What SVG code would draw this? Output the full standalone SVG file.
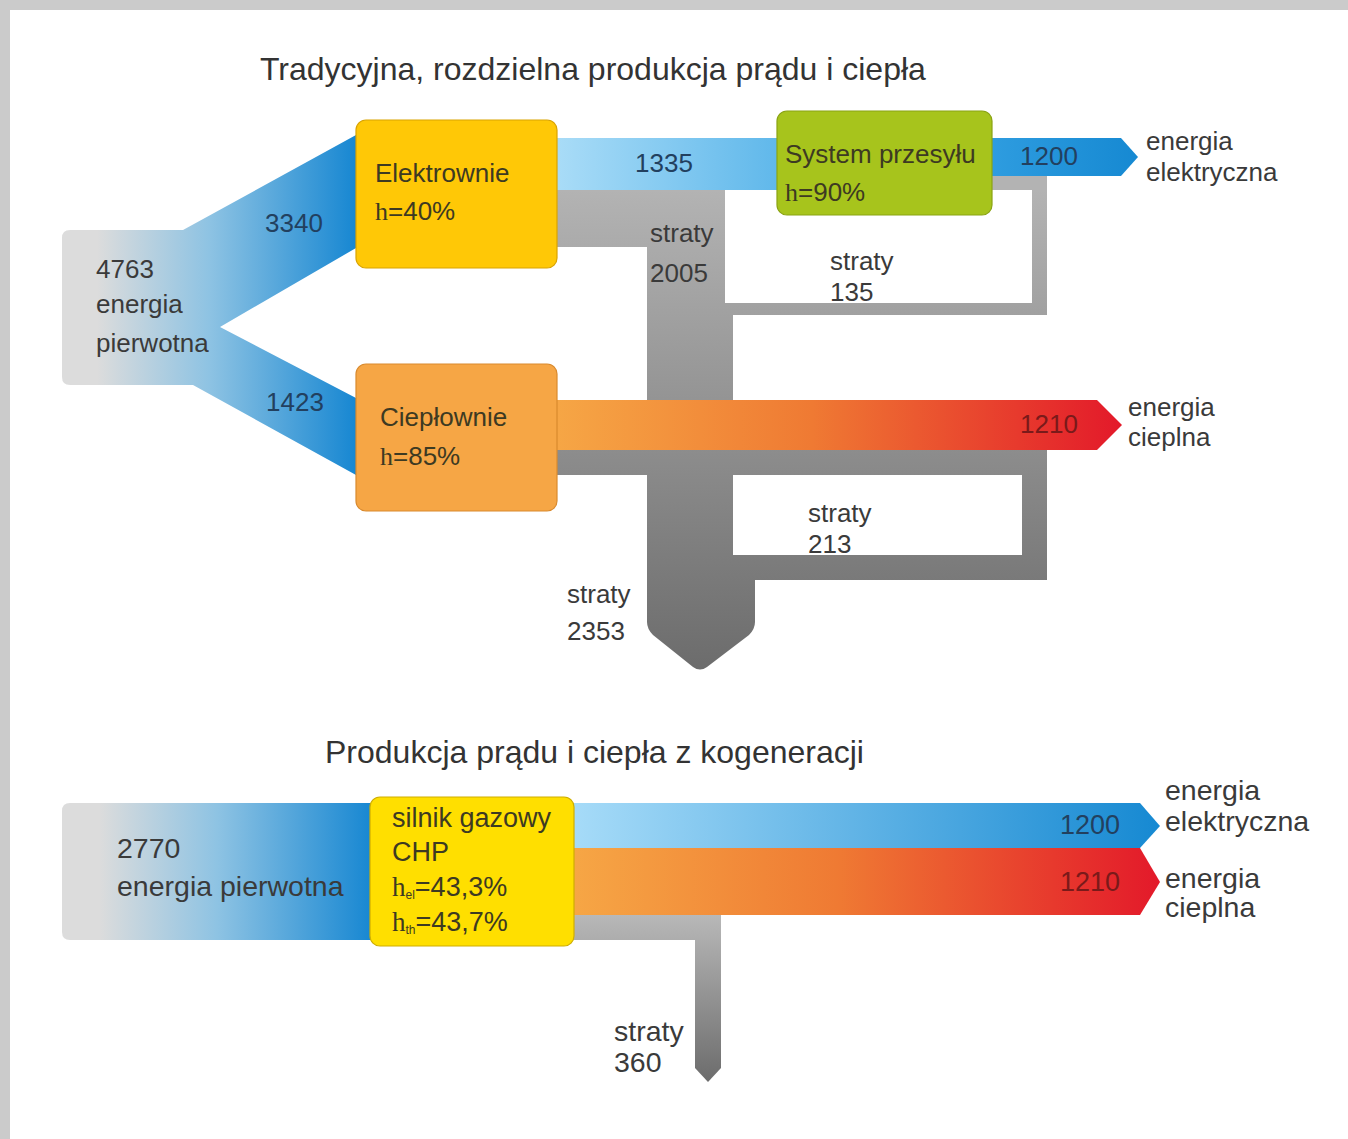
<svg xmlns="http://www.w3.org/2000/svg" width="1348" height="1139" viewBox="0 0 1348 1139">
  <style>
    text { font-family: "Liberation Sans", Arial, sans-serif; fill: #3a3a3a; }
    .title { font-size: 32px; fill: #333333; }
    .lbl { font-size: 26px; }
    .lbl2 { font-size: 28.5px; }
    .num { font-size: 26px; fill: #22405f; }
    .numr { font-size: 26px; fill: #7a1a1a; }
    .node { font-size: 26px; fill: #3d3a22; }
    .eta { font-family: "Liberation Serif", "Times New Roman", serif; }
    .sub { font-size: 12px; }
    .box { stroke-width: 1.2; }
    .grey { fill: url(#gGrey); }
    .grey2 { fill: url(#gGrey2); }
  </style>
  <defs>
    <linearGradient id="gSrc" gradientUnits="userSpaceOnUse" x1="62" y1="0" x2="356" y2="0">
      <stop offset="0.12" stop-color="#dcdcdc"/>
      <stop offset="0.5" stop-color="#8ec3e3"/>
      <stop offset="1" stop-color="#1787d2"/>
    </linearGradient>
    <linearGradient id="gSrc2" gradientUnits="userSpaceOnUse" x1="62" y1="0" x2="372" y2="0">
      <stop offset="0.12" stop-color="#dcdcdc"/>
      <stop offset="0.5" stop-color="#8ec3e3"/>
      <stop offset="1" stop-color="#1787d2"/>
    </linearGradient>
    <linearGradient id="gElLight" gradientUnits="userSpaceOnUse" x1="557" y1="0" x2="790" y2="0">
      <stop offset="0" stop-color="#a9dcf7"/>
      <stop offset="1" stop-color="#5cb6ea"/>
    </linearGradient>
    <linearGradient id="gElOut" gradientUnits="userSpaceOnUse" x1="985" y1="0" x2="1138" y2="0">
      <stop offset="0" stop-color="#2f9de0"/>
      <stop offset="1" stop-color="#1689d2"/>
    </linearGradient>
    <linearGradient id="gHeat" gradientUnits="userSpaceOnUse" x1="557" y1="0" x2="1122" y2="0">
      <stop offset="0" stop-color="#f6a645"/>
      <stop offset="0.45" stop-color="#ef7a33"/>
      <stop offset="1" stop-color="#e3192a"/>
    </linearGradient>
    <linearGradient id="gGrey" gradientUnits="userSpaceOnUse" x1="0" y1="190" x2="0" y2="670">
      <stop offset="0" stop-color="#b3b3b3"/>
      <stop offset="1" stop-color="#6c6c6c"/>
    </linearGradient>
    <linearGradient id="gBlue2" gradientUnits="userSpaceOnUse" x1="574" y1="0" x2="1160" y2="0">
      <stop offset="0" stop-color="#a6dbf8"/>
      <stop offset="1" stop-color="#1689d2"/>
    </linearGradient>
    <linearGradient id="gHeat2" gradientUnits="userSpaceOnUse" x1="574" y1="0" x2="1160" y2="0">
      <stop offset="0" stop-color="#f6a645"/>
      <stop offset="0.45" stop-color="#ef7a33"/>
      <stop offset="1" stop-color="#e3192a"/>
    </linearGradient>
    <linearGradient id="gGrey2" gradientUnits="userSpaceOnUse" x1="0" y1="915" x2="0" y2="1082">
      <stop offset="0" stop-color="#b8b8b8"/>
      <stop offset="1" stop-color="#6c6c6c"/>
    </linearGradient>
  </defs>

  <rect x="0" y="0" width="1348" height="1139" fill="#ffffff"/>
  <rect x="0" y="0" width="1348" height="10" fill="#cbcbcb"/>
  <rect x="0" y="0" width="10" height="1139" fill="#cbcbcb"/>

  <text class="title" x="260" y="80">Tradycyjna, rozdzielna produkcja prądu i ciepła</text>
  <text class="title" x="325" y="763">Produkcja prądu i ciepła z kogeneracji</text>

  <g id="connectors">
    <path id="flow-primary" d="M70,230 H183 L356,135 V248 L220,327 L356,398 V475 L193,385 H70 Q62,385 62,377 V238 Q62,230 70,230 Z" fill="url(#gSrc)"/>
    <g id="losses-top">
      <rect class="grey" x="557" y="190" width="168" height="57"/>
      <rect class="grey" x="647" y="190" width="78" height="130"/>
      <rect class="grey" x="985" y="176" width="62" height="14"/>
      <rect class="grey" x="1032" y="176" width="15" height="139"/>
      <rect class="grey" x="725" y="303" width="322" height="12"/>
      <rect class="grey" x="647" y="315" width="86" height="160"/>
      <rect class="grey" x="557" y="450" width="490" height="25"/>
      <rect class="grey" x="1022" y="450" width="25" height="130"/>
      <rect class="grey" x="733" y="555" width="314" height="25"/>
      <path class="grey" d="M647,475 H733 V555 H755 V622 Q755,629 749,635 L707,667 Q700,672 693,667 L653,635 Q647,629 647,622 Z"/>
    </g>
    <path id="flow-1335" d="M557,138 H790 V190 H557 Z" fill="url(#gElLight)"/>
    <path id="flow-1200" d="M985,138 H1121 L1138,157 L1121,176 H985 Z" fill="url(#gElOut)"/>
    <path id="flow-1210" d="M557,400 H1097 L1122,425 L1097,450 H557 Z" fill="url(#gHeat)"/>

    <path id="flow-2770" d="M70,803 H380 V940 H70 Q62,940 62,932 V811 Q62,803 70,803 Z" fill="url(#gSrc2)"/>
    <path id="flow-1200b" d="M565,803 H1140 L1160,826 L1140,848 H565 Z" fill="url(#gBlue2)"/>
    <path id="flow-1210b" d="M565,848 H1140 L1160,882 L1140,915 H565 Z" fill="url(#gHeat2)"/>
    <rect class="grey2" x="565" y="915" width="156" height="25"/>
    <path class="grey2" d="M695,915 H721 V1068 L708,1082 L695,1068 Z"/>
  </g>

  <g id="node-elektrownie">
    <rect class="box" x="356" y="120" width="201" height="148" rx="10" fill="#ffc806" stroke="#d9a300"/>
    <text class="node" x="375" y="182">Elektrownie</text>
    <text class="node" x="375" y="220"><tspan class="eta">h</tspan>=40%</text>
  </g>
  <g id="node-cieplownie">
    <rect class="box" x="356" y="364" width="201" height="147" rx="10" fill="#f6a645" stroke="#d98a2e"/>
    <text class="node" x="380" y="426">Ciepłownie</text>
    <text class="node" x="380" y="465"><tspan class="eta">h</tspan>=85%</text>
  </g>
  <g id="node-system">
    <rect class="box" x="777" y="111" width="215" height="104" rx="10" fill="#a7c41c" stroke="#8aa312"/>
    <text class="node" x="785" y="163">System przesyłu</text>
    <text class="node" x="785" y="201"><tspan class="eta">h</tspan>=90%</text>
  </g>
  <g id="node-chp">
    <rect class="box" x="370" y="797" width="204" height="149" rx="10" fill="#ffdf00" stroke="#cfae00"/>
    <text class="node" x="392" y="827" style="font-size:27px">silnik gazowy</text>
    <text class="node" x="392" y="861" style="font-size:27px">CHP</text>
    <text class="node" x="392" y="896" style="font-size:27px"><tspan class="eta">h</tspan><tspan class="sub" dy="3">el</tspan><tspan dy="-3">=43,3%</tspan></text>
    <text class="node" x="392" y="931" style="font-size:27px"><tspan class="eta">h</tspan><tspan class="sub" dy="3">th</tspan><tspan dy="-3">=43,7%</tspan></text>
  </g>

  <g id="labels">
    <text class="lbl" x="96" y="278">4763</text>
    <text class="lbl" x="96" y="313">energia</text>
    <text class="lbl" x="96" y="352">pierwotna</text>
    <text class="num" x="265" y="232">3340</text>
    <text class="num" x="266" y="411">1423</text>
    <text class="num" x="635" y="172">1335</text>
    <text class="num" x="1020" y="165">1200</text>
    <text class="lbl" x="1146" y="150">energia</text>
    <text class="lbl" x="1146" y="181">elektryczna</text>
    <text class="lbl" x="650" y="242">straty</text>
    <text class="lbl" x="650" y="282">2005</text>
    <text class="lbl" x="830" y="270">straty</text>
    <text class="lbl" x="830" y="301">135</text>
    <text class="numr" x="1020" y="433">1210</text>
    <text class="lbl" x="1128" y="416">energia</text>
    <text class="lbl" x="1128" y="446">cieplna</text>
    <text class="lbl" x="808" y="522">straty</text>
    <text class="lbl" x="808" y="553">213</text>
    <text class="lbl" x="567" y="603">straty</text>
    <text class="lbl" x="567" y="640">2353</text>

    <text class="lbl2" x="117" y="858">2770</text>
    <text class="lbl2" x="117" y="896">energia pierwotna</text>
    <text class="num" x="1060" y="834" style="font-size:27px">1200</text>
    <text class="numr" x="1060" y="891" style="font-size:27px">1210</text>
    <text class="lbl2" x="1165" y="800">energia</text>
    <text class="lbl2" x="1165" y="831">elektryczna</text>
    <text class="lbl2" x="1165" y="888">energia</text>
    <text class="lbl2" x="1165" y="917">cieplna</text>
    <text class="lbl2" x="614" y="1041">straty</text>
    <text class="lbl2" x="614" y="1072">360</text>
  </g>
</svg>
